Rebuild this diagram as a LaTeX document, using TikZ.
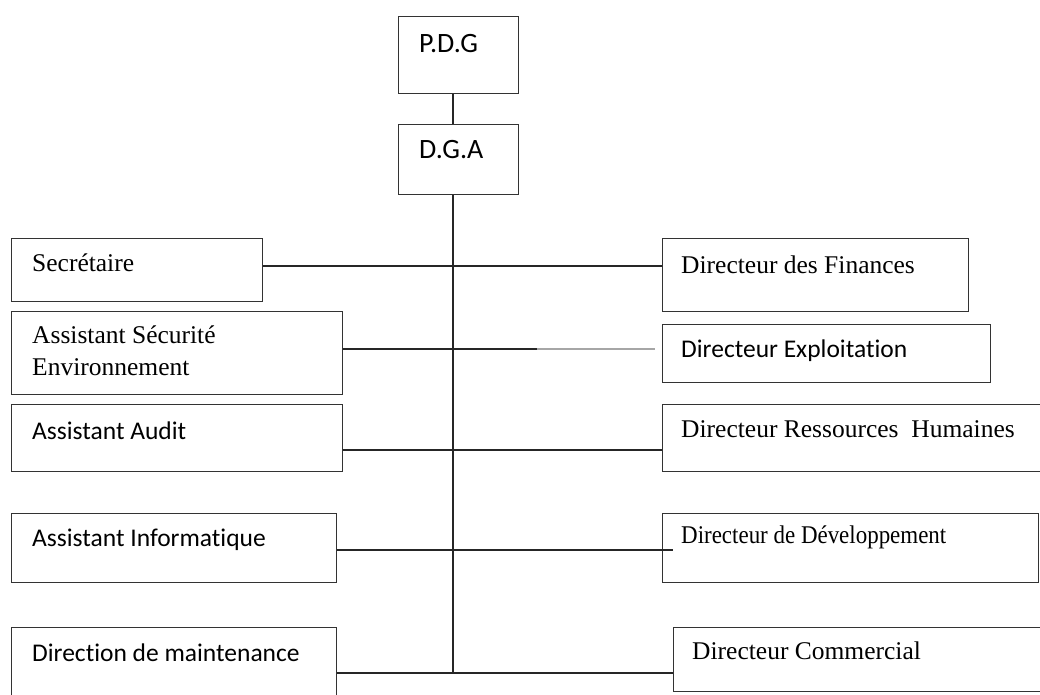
\documentclass[tikz,border=0pt]{standalone}
\usepackage{fontspec}
\usepackage{graphicx}
\setmainfont{Liberation Serif}
\newfontfamily\calibri[Ligatures=NoCommon]{Carlito}

\tikzset{
  box/.style={draw=black!80, line width=1.3pt, anchor=north west, inner sep=0pt},
  txt/.style={anchor=west, inner sep=0pt, align=left, font=\fontsize{25.5}{32}\selectfont},
  link/.style={black!85, line width=1.4pt}
}

\begin{document}
\begin{tikzpicture}[x=1pt, y=-1pt]
\clip (0,0) rectangle (1040,695);

% boxes: name / left / top / right / bottom / text offset x,y / text
\foreach \name/\xa/\ya/\xb/\yb/\dx/\dy/\txt in {
  pdg/398/16/518/93/21/28/{\calibri\fontsize{28}{32}\selectfont P.D.G},
  dga/398/124/518/194/21/26/{\calibri\fontsize{28}{32}\selectfont D.G.A},
  sec/11/238/262/301/21/25/{Secrétaire},
  ase/11/311/342/394/21/40/{Assistant Sécurité\\Environnement},
  aud/11/404/342/471/21/27/{\calibri Assistant Audit},
  inf/11/513/336/582/21/27/{\calibri Assistant Informatique},
  mnt/11/627/336/705/21/26/{\calibri Direction de maintenance},
  fin/662/238/968/311/19/27/{Directeur des Finances},
  exp/662/324/990/382/19/27/{\calibri Directeur Exploitation},
  rh/662/404/1045/471/19/25/{Directeur Ressources\ \ Humaines},
  dev/662/513/1038/582/19/24/{\scalebox{0.9}[1]{Directeur\ de Développement}},
  com/673/627/1045/691/19/24/{Directeur Commercial}}
{
  \node[box, minimum width={(\xb-\xa)*1pt}, minimum height={(\yb-\ya)*1pt}] (\name) at (\xa,\ya) {};
  \node[txt] (\name-t) at ([xshift=\dx pt, yshift=-\dy pt]\name.north west) {\txt};
}

% main vertical line
\coordinate (spine) at (453,0);
\coordinate (foot) at (453,673);
\draw[link] (pdg.south -| spine) -- (dga.north -| spine);
\draw[link] (dga.south -| spine) -- (foot);

% branches
\coordinate (expend) at (655,349);
\coordinate (devend) at (673,550);
\draw[link] (sec.east |- 0,266) -- (fin.west |- 0,266);
\draw[link] (ase.east |- expend) -- (537,349);
\draw[gray!70, line width=1.4pt] (537,349) -- (expend);
\draw[link] (aud.east |- 0,450) -- (rh.west |- 0,450);
\draw[link] (inf.east |- devend) -- (devend);
\draw[link] (mnt.east |- foot) -- (com.west |- foot);
\end{tikzpicture}
\end{document}
